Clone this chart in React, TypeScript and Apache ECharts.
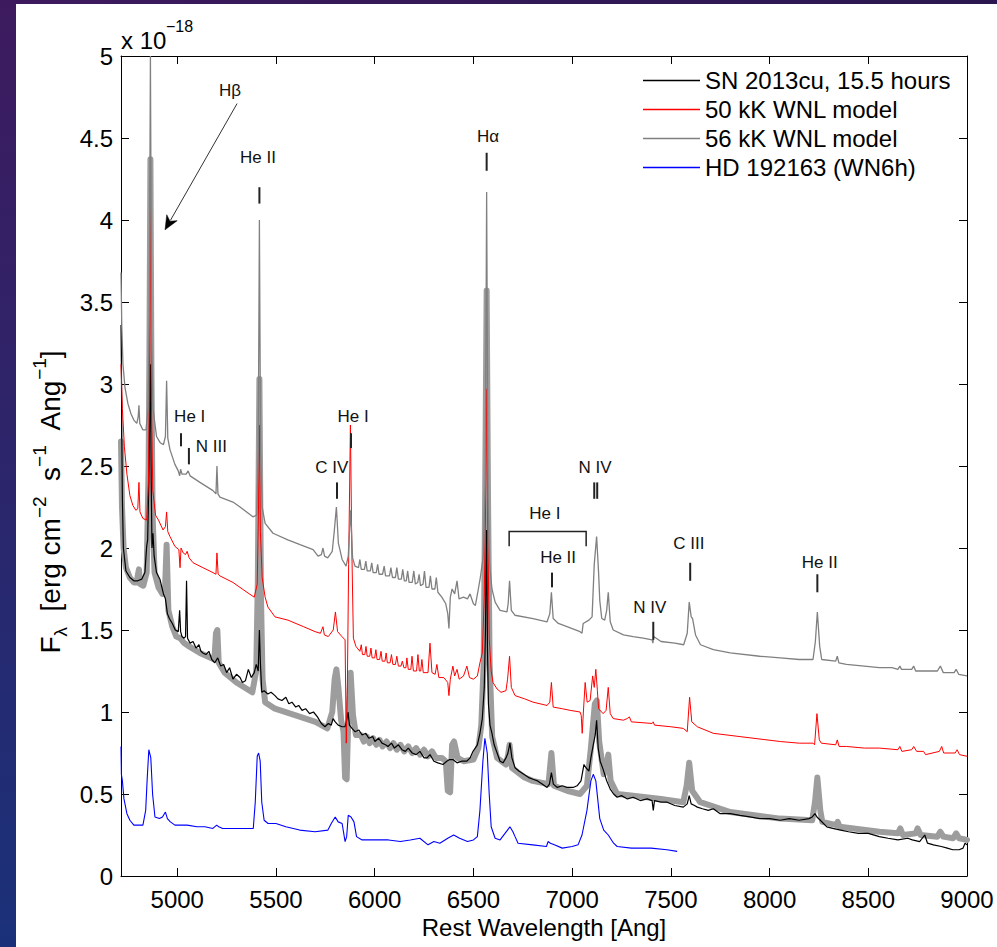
import React, { useEffect, useRef } from "react";
import * as echarts from "echarts";

const FONT = "'Liberation Sans', Arial, Helvetica, sans-serif";

const xTicks = [5000, 5500, 6000, 6500, 7000, 7500, 8000, 8500, 9000];
const xMin = 4715;
const xMax = 9000;
const yMin = 0;
const yMax = 5;
const yStep = 0.5;

const legendNames = [
  "SN 2013cu, 15.5 hours",
  "50 kK WNL model",
  "56 kK WNL model",
  "HD 192163 (WN6h)",
];

// SN 2013cu observed spectrum (x 1e-18)
const snSpectrum: [number, number][] = [
  [4715, 3.36], [4717, 3.12], [4719, 2.7], [4722, 2.3], [4727, 2.0], [4740, 1.86], [4760, 1.82], [4780, 1.8],
  [4800, 1.8], [4820, 1.81], [4836, 1.85], [4845, 2.01], [4850, 2.05], [4856, 2.4], [4861, 2.9], [4864, 3.12],
  [4868, 2.4], [4872, 2.0], [4877, 2.09], [4883, 1.95], [4895, 1.85], [4912, 1.81], [4920, 1.77], [4930, 1.72],
  [4940, 1.69], [4950, 1.6], [4960, 1.57], [4975, 1.54], [4990, 1.5], [5005, 1.49], [5012, 1.62], [5017, 1.49],
  [5024, 1.46], [5034, 1.45], [5042, 1.46], [5047, 1.8], [5052, 1.45], [5065, 1.42], [5080, 1.43], [5095, 1.39],
  [5110, 1.41], [5120, 1.37], [5130, 1.36], [5145, 1.35], [5160, 1.37], [5175, 1.32], [5190, 1.3], [5205, 1.33],
  [5220, 1.28], [5235, 1.29], [5250, 1.24], [5265, 1.27], [5282, 1.2], [5300, 1.23], [5318, 1.21], [5330, 1.18],
  [5345, 1.19], [5360, 1.26], [5375, 1.21], [5390, 1.24], [5400, 1.29], [5410, 1.25], [5416, 1.5], [5421, 1.3],
  [5428, 1.12], [5440, 1.13], [5459, 1.11], [5475, 1.12], [5495, 1.1], [5510, 1.08], [5530, 1.07], [5550, 1.09],
  [5565, 1.05], [5581, 1.06], [5600, 1.03], [5615, 1.04], [5632, 1.01], [5650, 1.02], [5670, 0.99], [5690, 1.0],
  [5710, 0.97], [5730, 0.93], [5748, 0.91], [5765, 0.93], [5780, 0.92], [5789, 0.96], [5800, 0.94], [5815, 0.92],
  [5835, 0.91], [5850, 0.91], [5858, 0.95], [5865, 1.0], [5872, 0.92], [5885, 0.9], [5900, 0.88], [5920, 0.89],
  [5936, 0.86], [5955, 0.87], [5970, 0.84], [5990, 0.85], [6001, 0.82], [6020, 0.84], [6037, 0.81], [6055, 0.8],
  [6067, 0.79], [6085, 0.81], [6100, 0.78], [6120, 0.8], [6138, 0.77], [6155, 0.76], [6170, 0.78], [6190, 0.75],
  [6210, 0.74], [6229, 0.76], [6250, 0.72], [6265, 0.72], [6280, 0.74], [6300, 0.7], [6320, 0.69], [6346, 0.68],
  [6365, 0.7], [6380, 0.71], [6396, 0.71], [6417, 0.69], [6440, 0.7], [6467, 0.7], [6483, 0.72], [6498, 0.76],
  [6520, 0.8], [6533, 0.87], [6545, 0.96], [6555, 1.15], [6561, 1.5], [6564, 1.9], [6567, 2.11], [6571, 1.4],
  [6576, 1.05], [6584, 0.92], [6594, 0.87], [6605, 0.8], [6620, 0.75], [6635, 0.7], [6650, 0.69], [6665, 0.72],
  [6675, 0.75], [6685, 0.81], [6695, 0.72], [6711, 0.66], [6730, 0.64], [6755, 0.62], [6780, 0.6], [6802, 0.59],
  [6825, 0.58], [6850, 0.56], [6873, 0.54], [6885, 0.56], [6895, 0.63], [6905, 0.56], [6925, 0.54], [6950, 0.55],
  [6974, 0.54], [7005, 0.54], [7025, 0.55], [7045, 0.58], [7060, 0.68], [7070, 0.66], [7085, 0.64], [7095, 0.72],
  [7107, 0.8], [7117, 0.86], [7124, 0.95], [7132, 0.78], [7142, 0.7], [7157, 0.65], [7175, 0.58], [7193, 0.53],
  [7210, 0.5], [7228, 0.48], [7250, 0.49], [7280, 0.47], [7309, 0.48], [7345, 0.46], [7380, 0.47], [7405, 0.46],
  [7411, 0.4], [7417, 0.46], [7450, 0.45], [7481, 0.45], [7520, 0.43], [7563, 0.42], [7583, 0.44], [7593, 0.49],
  [7603, 0.44], [7620, 0.43], [7634, 0.42], [7660, 0.41], [7690, 0.4], [7715, 0.41], [7750, 0.38], [7801, 0.38],
  [7850, 0.37], [7900, 0.36], [7950, 0.35], [8000, 0.35], [8054, 0.34], [8100, 0.35], [8150, 0.34], [8200, 0.35],
  [8216, 0.36], [8230, 0.38], [8240, 0.36], [8257, 0.34], [8290, 0.3], [8320, 0.29], [8360, 0.28], [8400, 0.27],
  [8450, 0.26], [8500, 0.26], [8556, 0.24], [8600, 0.23], [8650, 0.22], [8700, 0.23], [8723, 0.22], [8760, 0.21],
  [8786, 0.25], [8800, 0.2], [8830, 0.19], [8870, 0.18], [8900, 0.17], [8928, 0.16], [8960, 0.16], [8980, 0.17],
  [8990, 0.2], [9000, 0.19],
];

// 50 kK WNL model, offset upward
const model50Offset: [number, number][] = [
  [4715, 3.12], [4722, 2.85], [4732, 2.62], [4745, 2.45], [4760, 2.32], [4775, 2.26], [4790, 2.23], [4800, 2.24],
  [4806, 2.4], [4811, 2.22], [4826, 2.18], [4845, 2.17], [4854, 2.4], [4859, 3.0], [4864, 4.25], [4869, 2.9],
  [4876, 2.35], [4890, 2.2], [4905, 2.17], [4928, 2.11], [4940, 2.13], [4946, 2.22], [4952, 2.1], [4963, 2.07],
  [4988, 2.01], [5008, 1.99], [5014, 1.88], [5019, 2.0], [5030, 1.97], [5042, 1.96], [5050, 1.98], [5060, 1.94],
  [5080, 1.91], [5130, 1.88], [5181, 1.85], [5196, 1.84], [5201, 1.97], [5207, 1.84], [5216, 1.83], [5282, 1.79],
  [5353, 1.73], [5390, 1.7], [5405, 1.78], [5411, 2.2], [5416, 2.75], [5421, 2.1], [5430, 1.82], [5445, 1.7],
  [5459, 1.64], [5495, 1.58], [5561, 1.56], [5640, 1.52], [5698, 1.49], [5725, 1.48], [5738, 1.52], [5745, 1.47],
  [5765, 1.46], [5790, 1.5], [5801, 1.61], [5812, 1.49], [5834, 1.46], [5850, 1.44], [5856, 0.81], [5861, 1.1],
  [5868, 1.9], [5877, 2.75], [5884, 2.0], [5892, 1.45], [5905, 1.4], [5925, 1.37], [5932, 1.41], [5938, 1.35],
  [5950, 1.35], [5956, 1.4], [5962, 1.34], [5975, 1.34], [5981, 1.39], [5987, 1.33], [6000, 1.33], [6006, 1.38],
  [6012, 1.32], [6025, 1.32], [6032, 1.37], [6038, 1.31], [6052, 1.31], [6058, 1.36], [6064, 1.3], [6078, 1.3],
  [6085, 1.35], [6092, 1.29], [6105, 1.29], [6112, 1.34], [6120, 1.28], [6133, 1.28], [6140, 1.31], [6148, 1.27],
  [6158, 1.27], [6163, 1.33], [6170, 1.26], [6183, 1.26], [6189, 1.34], [6196, 1.25], [6212, 1.25], [6219, 1.35],
  [6226, 1.25], [6233, 1.25], [6239, 1.32], [6246, 1.24], [6270, 1.24], [6280, 1.42], [6290, 1.24], [6306, 1.23],
  [6315, 1.29], [6325, 1.21], [6350, 1.21], [6370, 1.18], [6376, 1.1], [6383, 1.2], [6396, 1.28], [6405, 1.22],
  [6417, 1.26], [6428, 1.2], [6450, 1.22], [6467, 1.28], [6480, 1.21], [6500, 1.2], [6520, 1.22], [6533, 1.3],
  [6545, 1.36], [6555, 1.7], [6561, 2.2], [6567, 2.97], [6573, 2.1], [6580, 1.45], [6590, 1.25], [6599, 1.18],
  [6620, 1.14], [6640, 1.12], [6665, 1.13], [6673, 1.2], [6683, 1.34], [6692, 1.15], [6711, 1.1], [6760, 1.08],
  [6802, 1.06], [6873, 1.04], [6887, 1.06], [6895, 1.18], [6904, 1.03], [6950, 1.02], [6990, 1.01], [7040, 1.0],
  [7046, 0.98], [7051, 0.87], [7057, 1.0], [7066, 1.18], [7076, 1.06], [7091, 1.07], [7104, 1.22], [7112, 1.15],
  [7120, 1.26], [7128, 1.13], [7134, 1.02], [7157, 0.99], [7172, 1.01], [7183, 1.15], [7193, 0.99], [7208, 0.96],
  [7260, 0.95], [7279, 0.96], [7290, 0.97], [7300, 0.94], [7405, 0.93], [7411, 0.94], [7417, 0.92], [7500, 0.91],
  [7563, 0.9], [7583, 0.88], [7595, 1.09], [7606, 0.94], [7634, 0.91], [7715, 0.87], [7850, 0.85], [8054, 0.82],
  [8150, 0.81], [8220, 0.81], [8228, 0.8], [8240, 0.99], [8252, 0.83], [8262, 0.81], [8335, 0.8], [8343, 0.83],
  [8352, 0.79], [8389, 0.79], [8480, 0.78], [8556, 0.78], [8650, 0.77], [8660, 0.79], [8670, 0.76], [8720, 0.77],
  [8730, 0.79], [8745, 0.76], [8780, 0.76], [8790, 0.74], [8860, 0.76], [8872, 0.79], [8882, 0.75], [8940, 0.75],
  [8950, 0.77], [8962, 0.74], [9000, 0.73],
];

// 56 kK WNL model, offset upward (thin grey)
const model56Offset: [number, number][] = [
  [4715, 3.68], [4719, 3.35], [4725, 3.12], [4735, 2.98], [4750, 2.88], [4765, 2.82], [4780, 2.78], [4795, 2.76],
  [4802, 2.8], [4806, 2.87], [4810, 2.76], [4826, 2.72], [4842, 2.72], [4852, 2.85], [4858, 3.4], [4864, 5.0],
  [4870, 3.3], [4877, 2.85], [4895, 2.68], [4915, 2.64], [4930, 2.63], [4940, 2.68], [4946, 3.02], [4952, 2.67],
  [4963, 2.6], [4988, 2.51], [5005, 2.47], [5012, 2.44], [5017, 2.48], [5024, 2.45], [5045, 2.45], [5055, 2.47],
  [5065, 2.44], [5115, 2.4], [5181, 2.35], [5196, 2.33], [5201, 2.5], [5206, 2.33], [5216, 2.31], [5282, 2.28],
  [5318, 2.25], [5383, 2.19], [5403, 2.2], [5410, 2.6], [5416, 4.0], [5422, 2.6], [5430, 2.25], [5445, 2.15],
  [5485, 2.09], [5560, 2.05], [5622, 2.02], [5688, 1.99], [5713, 1.95], [5730, 1.96], [5738, 2.0], [5746, 1.95],
  [5762, 1.94], [5785, 1.98], [5795, 2.1], [5806, 2.25], [5816, 2.03], [5835, 1.93], [5855, 1.89], [5866, 1.95],
  [5878, 2.23], [5888, 1.94], [5900, 1.89], [5918, 1.88], [5925, 1.93], [5932, 1.87], [5948, 1.87], [5955, 1.92],
  [5962, 1.86], [5978, 1.86], [5985, 1.91], [5992, 1.85], [6008, 1.85], [6015, 1.9], [6022, 1.84], [6040, 1.84],
  [6048, 1.89], [6055, 1.83], [6075, 1.83], [6082, 1.88], [6090, 1.82], [6105, 1.82], [6112, 1.88], [6120, 1.81],
  [6135, 1.81], [6142, 1.87], [6150, 1.8], [6160, 1.8], [6167, 1.86], [6174, 1.79], [6190, 1.79], [6198, 1.86],
  [6206, 1.78], [6218, 1.79], [6225, 1.84], [6232, 1.77], [6245, 1.78], [6252, 1.86], [6260, 1.76], [6275, 1.76],
  [6282, 1.83], [6290, 1.75], [6305, 1.75], [6312, 1.82], [6320, 1.73], [6340, 1.7], [6360, 1.66], [6370, 1.6],
  [6376, 1.51], [6383, 1.7], [6392, 1.75], [6405, 1.72], [6417, 1.8], [6427, 1.69], [6450, 1.7], [6470, 1.69],
  [6483, 1.72], [6500, 1.66], [6510, 1.65], [6525, 1.75], [6535, 1.82], [6550, 1.95], [6560, 2.4], [6567, 4.17],
  [6574, 2.3], [6582, 1.9], [6594, 1.75], [6610, 1.67], [6635, 1.62], [6670, 1.61], [6676, 1.66], [6683, 1.8],
  [6692, 1.62], [6710, 1.59], [6802, 1.57], [6873, 1.55], [6887, 1.6], [6895, 1.73], [6904, 1.57], [6930, 1.54],
  [6974, 1.52], [7040, 1.49], [7050, 1.48], [7056, 1.54], [7085, 1.56], [7101, 1.58], [7112, 1.9], [7124, 2.07],
  [7134, 1.85], [7140, 1.68], [7150, 1.57], [7165, 1.56], [7175, 1.62], [7183, 1.73], [7193, 1.55], [7208, 1.5],
  [7260, 1.47], [7309, 1.46], [7360, 1.45], [7405, 1.44], [7409, 1.42], [7413, 1.46], [7450, 1.43], [7520, 1.42],
  [7565, 1.41], [7583, 1.48], [7593, 1.67], [7603, 1.58], [7610, 1.57], [7625, 1.47], [7650, 1.41], [7715, 1.38],
  [7801, 1.36], [7950, 1.34], [8054, 1.33], [8150, 1.32], [8220, 1.32], [8232, 1.43], [8242, 1.61], [8254, 1.4],
  [8264, 1.32], [8335, 1.31], [8343, 1.34], [8351, 1.3], [8389, 1.29], [8480, 1.28], [8556, 1.27], [8620, 1.27],
  [8650, 1.26], [8660, 1.28], [8668, 1.26], [8720, 1.26], [8730, 1.28], [8740, 1.25], [8850, 1.25], [8865, 1.28],
  [8880, 1.24], [8935, 1.24], [8945, 1.26], [8958, 1.23], [9000, 1.22],
];

// 56 kK WNL model, unshifted (thick grey, behind the observation)
const model56: [number, number][] = [
  [4715, 2.65], [4720, 2.25], [4728, 2.0], [4740, 1.88], [4760, 1.82], [4780, 1.79], [4795, 1.79], [4801, 1.84],
  [4806, 1.87], [4812, 1.78], [4828, 1.77], [4845, 1.85], [4855, 2.5], [4859, 3.2], [4864, 4.37], [4869, 3.1],
  [4875, 2.2], [4885, 1.85], [4905, 1.76], [4925, 1.72], [4938, 1.75], [4946, 2.02], [4955, 1.62], [4975, 1.52],
  [4995, 1.46], [5015, 1.45], [5035, 1.42], [5060, 1.4], [5115, 1.36], [5188, 1.32], [5196, 1.48], [5203, 1.5],
  [5210, 1.3], [5240, 1.24], [5300, 1.18], [5380, 1.12], [5400, 1.25], [5408, 1.8], [5416, 3.03], [5424, 1.7],
  [5432, 1.2], [5445, 1.06], [5495, 1.02], [5600, 0.98], [5700, 0.94], [5760, 0.9], [5785, 1.0], [5797, 1.2],
  [5806, 1.26], [5816, 1.15], [5830, 0.95], [5842, 0.88], [5850, 0.6], [5858, 0.59], [5866, 0.95], [5878, 1.24],
  [5890, 0.98], [5905, 0.86], [5930, 0.86], [5945, 0.82], [5960, 0.85], [5975, 0.81], [5992, 0.84], [6008, 0.8],
  [6025, 0.83], [6040, 0.79], [6060, 0.82], [6078, 0.78], [6095, 0.81], [6112, 0.77], [6130, 0.8], [6150, 0.76],
  [6170, 0.79], [6190, 0.75], [6210, 0.78], [6230, 0.74], [6250, 0.77], [6270, 0.73], [6290, 0.76], [6310, 0.72],
  [6340, 0.72], [6360, 0.7], [6370, 0.52], [6382, 0.51], [6392, 0.8], [6402, 0.82], [6420, 0.72], [6450, 0.7],
  [6500, 0.71], [6525, 0.78], [6540, 0.92], [6552, 1.3], [6560, 2.4], [6567, 3.57], [6574, 2.3], [6582, 1.3],
  [6595, 0.85], [6620, 0.72], [6665, 0.68], [6676, 0.74], [6683, 0.8], [6695, 0.66], [6760, 0.6], [6800, 0.58],
  [6880, 0.56], [6895, 0.75], [6908, 0.55], [6974, 0.52], [7040, 0.5], [7075, 0.55], [7095, 0.78], [7115, 1.05],
  [7125, 1.07], [7137, 0.82], [7160, 0.62], [7175, 0.68], [7183, 0.74], [7195, 0.58], [7228, 0.5], [7309, 0.49],
  [7450, 0.47], [7563, 0.45], [7580, 0.55], [7593, 0.69], [7608, 0.52], [7649, 0.45], [7801, 0.39], [8054, 0.35],
  [8216, 0.34], [8230, 0.45], [8242, 0.6], [8257, 0.4], [8267, 0.33], [8338, 0.31], [8345, 0.33], [8355, 0.3],
  [8556, 0.27], [8650, 0.26], [8662, 0.29], [8675, 0.25], [8740, 0.26], [8750, 0.29], [8765, 0.25], [8850, 0.24],
  [8865, 0.27], [8880, 0.24], [8930, 0.23], [8945, 0.26], [8960, 0.23], [9000, 0.22],
];

// HD 192163 (WN6h)
const hd192163: [number, number][] = [
  [4715, 0.79], [4717, 0.62], [4722, 0.58], [4730, 0.47], [4745, 0.38], [4760, 0.34], [4780, 0.31], [4810, 0.31],
  [4826, 0.31], [4840, 0.4], [4848, 0.6], [4856, 0.77], [4866, 0.72], [4875, 0.5], [4887, 0.36], [4910, 0.35],
  [4925, 0.36], [4940, 0.39], [4950, 0.35], [4965, 0.33], [4988, 0.31], [5050, 0.31], [5100, 0.3], [5140, 0.3],
  [5180, 0.29], [5200, 0.31], [5210, 0.3], [5230, 0.29], [5300, 0.29], [5350, 0.29], [5385, 0.29], [5395, 0.45],
  [5405, 0.73], [5412, 0.75], [5420, 0.7], [5428, 0.45], [5440, 0.34], [5460, 0.32], [5500, 0.32], [5550, 0.3],
  [5620, 0.28], [5698, 0.27], [5763, 0.28], [5780, 0.32], [5800, 0.36], [5815, 0.33], [5835, 0.32], [5850, 0.21],
  [5858, 0.24], [5866, 0.37], [5880, 0.36], [5895, 0.33], [5908, 0.24], [5936, 0.22], [6000, 0.22], [6070, 0.22],
  [6130, 0.21], [6180, 0.22], [6229, 0.23], [6270, 0.19], [6300, 0.21], [6330, 0.2], [6370, 0.23], [6400, 0.25],
  [6430, 0.23], [6470, 0.21], [6500, 0.22], [6520, 0.24], [6533, 0.4], [6548, 0.7], [6558, 0.84], [6570, 0.75],
  [6580, 0.5], [6590, 0.3], [6610, 0.23], [6635, 0.22], [6660, 0.26], [6685, 0.3], [6700, 0.27], [6711, 0.24],
  [6726, 0.2], [6800, 0.19], [6870, 0.18], [6878, 0.21], [6890, 0.2], [6910, 0.19], [6950, 0.17], [7000, 0.18],
  [7030, 0.19], [7050, 0.25], [7075, 0.4], [7095, 0.58], [7107, 0.62], [7120, 0.58], [7140, 0.35], [7160, 0.28],
  [7183, 0.25], [7210, 0.2], [7228, 0.18], [7300, 0.17], [7400, 0.17], [7480, 0.16], [7532, 0.15],
];

// line identifications: label text and position in data units
const lineLabels: { text: string; wl: number; flux: number; align?: string }[] = [
  { text: "Hβ", wl: 5267, flux: 4.79 },
  { text: "He II", wl: 5409, flux: 4.38 },
  { text: "Hα", wl: 6574, flux: 4.51 },
  { text: "He I", wl: 5063, flux: 2.8 },
  { text: "N III", wl: 5094, flux: 2.62, align: "left" },
  { text: "C IV", wl: 5783, flux: 2.49 },
  { text: "He I", wl: 5891, flux: 2.8 },
  { text: "N IV", wl: 7116, flux: 2.49 },
  { text: "He I", wl: 6862, flux: 2.21 },
  { text: "He II", wl: 6929, flux: 1.94 },
  { text: "N IV", wl: 7393, flux: 1.64 },
  { text: "C III", wl: 7591, flux: 2.03 },
  { text: "He II", wl: 8254, flux: 1.91 },
];

// short identification ticks: [wavelength, lower flux, upper flux]
const lineTicks: [number, number, number][] = [
  [5416, 4.1, 4.2], [6567, 4.3, 4.41], [5019, 2.62, 2.7], [5059, 2.51, 2.61], [5809, 2.3, 2.4],
  [5880, 2.61, 2.7], [7112, 2.3, 2.4], [7127, 2.3, 2.4], [6898, 1.76, 1.85], [7411, 1.44, 1.55],
  [7598, 1.8, 1.91], [8242, 1.73, 1.84],
];

// He I bracket (wavelengths and flux levels)
const bracketWl = [6681, 7071];
const bracketFlux = [2.01, 2.1];

// Hβ arrow: from label to line
const arrowFrom: [number, number] = [5303, 4.71];
const arrowTo: [number, number] = [4938, 3.94];

const yTitleRich =
  "{n|F}{sub|λ}{n|  [erg cm}{sup|−2}{n|  s}{sup|−1}{n|  Ang}{sup|−1}{n|]}";

export default function App() {
  const ref = useRef<HTMLDivElement>(null);

  useEffect(() => {
    if (!ref.current) return;
    const chart = echarts.init(ref.current, null, { renderer: "svg" });
    const axisColor = "#000";
    const tickCommon = { inside: true, length: 8, lineStyle: { color: axisColor, width: 1 } };

    const option: any = {
      animation: false,
      backgroundColor: "#ffffff",
      textStyle: { fontFamily: FONT },
      grid: { left: 121, top: 56, width: 846, height: 820, containLabel: false },
      legend: {
        data: legendNames,
        orient: "vertical",
        left: 643,
        top: 66,
        padding: 0,
        icon: "rect",
        itemWidth: 57,
        itemHeight: 1.5,
        itemGap: 0,
        selectedMode: false,
        textStyle: { fontSize: 24, lineHeight: 29, color: "#000", fontFamily: FONT },
      },
      xAxis: [
        {
          type: "value",
          position: "bottom",
          min: xMin,
          max: xMax,
          axisLine: { show: true, onZero: false, lineStyle: { color: axisColor, width: 1 } },
          axisTick: { ...tickCommon, customValues: xTicks },
          axisLabel: {
            customValues: xTicks,
            fontSize: 24,
            color: "#000",
            margin: 11,
            fontFamily: FONT,
            formatter: (v: number) => String(v),
          },
          splitLine: { show: false },
          name: "Rest Wavelength [Ang]",
          nameLocation: "middle",
          nameGap: 36,
          nameTextStyle: { fontSize: 24, color: "#000", fontFamily: FONT },
        },
        {
          type: "value",
          position: "top",
          min: xMin,
          max: xMax,
          axisLine: { show: true, onZero: false, lineStyle: { color: axisColor, width: 1 } },
          axisTick: { ...tickCommon, customValues: xTicks },
          axisLabel: { show: false },
          splitLine: { show: false },
        },
      ],
      yAxis: [
        {
          type: "value",
          position: "left",
          min: yMin,
          max: yMax,
          interval: yStep,
          axisLine: { show: true, onZero: false, lineStyle: { color: axisColor, width: 1 } },
          axisTick: tickCommon,
          axisLabel: { fontSize: 24, color: "#000", margin: 8, fontFamily: FONT },
          splitLine: { show: false },
        },
        {
          type: "value",
          position: "right",
          min: yMin,
          max: yMax,
          interval: yStep,
          axisLine: { show: true, onZero: false, lineStyle: { color: axisColor, width: 1 } },
          axisTick: tickCommon,
          axisLabel: { show: false },
          splitLine: { show: false },
        },
      ],
      series: [
        {
          name: "56 kK WNL model (unshifted)",
          type: "line",
          data: model56,
          symbol: "none",
          z: 1,
          lineStyle: { color: "#9d9d9d", width: 6, cap: "round", join: "round" },
          itemStyle: { color: "#9d9d9d" },
        },
        {
          name: legendNames[0],
          type: "line",
          data: snSpectrum,
          symbol: "none",
          z: 3,
          lineStyle: { color: "#000000", width: 1.2 },
          itemStyle: { color: "#000000" },
        },
        {
          name: legendNames[1],
          type: "line",
          data: model50Offset,
          symbol: "none",
          z: 4,
          lineStyle: { color: "#ff0000", width: 1 },
          itemStyle: { color: "#ff0000" },
        },
        {
          name: legendNames[2],
          type: "line",
          data: model56Offset,
          symbol: "none",
          z: 4,
          lineStyle: { color: "#808080", width: 1.3 },
          itemStyle: { color: "#808080" },
        },
        {
          name: legendNames[3],
          type: "line",
          data: hd192163,
          symbol: "none",
          z: 4,
          lineStyle: { color: "#0000ff", width: 1.1 },
          itemStyle: { color: "#0000ff" },
        },
      ],
    };
    chart.setOption(option);

    const px = (wl: number, f: number) =>
      chart.convertToPixel({ xAxisIndex: 0, yAxisIndex: 0 }, [wl, f]) as number[];

    const graphics: any[] = [];
    // slide background strips
    graphics.push({
      type: "rect",
      shape: { x: 0, y: 0, width: 16, height: 947 },
      style: {
        fill: new echarts.graphic.LinearGradient(0, 0, 0, 1, [
          { offset: 0, color: "#3d1a5e" },
          { offset: 1, color: "#1a3179" },
        ]),
      },
      silent: true,
      z: 0,
    });
    graphics.push({
      type: "rect",
      shape: { x: 0, y: 0, width: 997, height: 4 },
      style: {
        fill: new echarts.graphic.LinearGradient(0, 0, 1, 0, [
          { offset: 0, color: "#3d1a5e" },
          { offset: 1, color: "#2b1750" },
        ]),
      },
      silent: true,
      z: 0,
    });

    // exponent label
    graphics.push({
      type: "text",
      x: 121,
      y: 40,
      style: { text: "x 10", fontSize: 24, fill: "#000", fontFamily: FONT, align: "left", verticalAlign: "middle" },
      z: 10,
    });
    graphics.push({
      type: "text",
      x: 166,
      y: 26,
      style: { text: "−18", fontSize: 16, fill: "#000", fontFamily: FONT, align: "left", verticalAlign: "middle" },
      z: 10,
    });

    // y axis title
    graphics.push({
      type: "text",
      x: 50,
      y: 502,
      rotation: Math.PI / 2,
      style: {
        text: yTitleRich,
        align: "center",
        verticalAlign: "middle",
        fill: "#000",
        fontFamily: FONT,
        rich: {
          n: { fontSize: 28, lineHeight: 40, verticalAlign: "middle", fontFamily: FONT, fill: "#000" },
          sup: { fontSize: 19, lineHeight: 19, verticalAlign: "top", fontFamily: FONT, fill: "#000" },
          sub: { fontSize: 19, lineHeight: 19, verticalAlign: "bottom", fontFamily: FONT, fill: "#000" },
        },
      },
      z: 10,
    });

    lineLabels.forEach((l) => {
      const p = px(l.wl, l.flux);
      graphics.push({
        type: "text",
        x: p[0],
        y: p[1],
        style: {
          text: l.text,
          fontSize: 17,
          fill: "#111",
          fontFamily: FONT,
          align: l.align === "left" ? "left" : "center",
          verticalAlign: "middle",
        },
        z: 10,
      });
    });

    lineTicks.forEach((t) => {
      const a = px(t[0], t[1]);
      const b = px(t[0], t[2]);
      graphics.push({
        type: "line",
        shape: { x1: a[0], y1: a[1], x2: b[0], y2: b[1] },
        style: { stroke: "#222", lineWidth: 2 },
        z: 10,
      });
    });

    const b0 = px(bracketWl[0], bracketFlux[0]);
    const b1 = px(bracketWl[0], bracketFlux[1]);
    const b2 = px(bracketWl[1], bracketFlux[1]);
    const b3 = px(bracketWl[1], bracketFlux[0]);
    graphics.push({
      type: "polyline",
      shape: { points: [b0, b1, b2, b3] },
      style: { stroke: "#222", lineWidth: 1.5, fill: null },
      z: 10,
    });

    const a0 = px(arrowFrom[0], arrowFrom[1]);
    const a1 = px(arrowTo[0], arrowTo[1]);
    const dx = a1[0] - a0[0];
    const dy = a1[1] - a0[1];
    const len = Math.sqrt(dx * dx + dy * dy);
    const ux = dx / len;
    const uy = dy / len;
    const headLen = 14;
    const headW = 6;
    const bx = a1[0] - ux * headLen;
    const by = a1[1] - uy * headLen;
    const nx = -uy;
    const ny = ux;
    graphics.push({
      type: "line",
      shape: { x1: a0[0], y1: a0[1], x2: bx + ux * 3, y2: by + uy * 3 },
      style: { stroke: "#333", lineWidth: 1 },
      z: 10,
    });
    graphics.push({
      type: "polygon",
      shape: {
        points: [
          [a1[0], a1[1]],
          [bx + nx * headW, by + ny * headW],
          [bx + ux * 4, by + uy * 4],
          [bx - nx * headW, by - ny * headW],
        ],
      },
      style: { fill: "#000", stroke: "#000", lineWidth: 0.5 },
      z: 10,
    });

    chart.setOption({ graphic: { elements: graphics } });

    return () => {
      chart.dispose();
    };
  }, []);

  return (
    <div
      style={{ position: "fixed", left: 0, top: 0, width: 997, height: 947, background: "#fff", margin: 0 }}
    >
      <div ref={ref} style={{ width: 997, height: 947 }} />
    </div>
  );
}
